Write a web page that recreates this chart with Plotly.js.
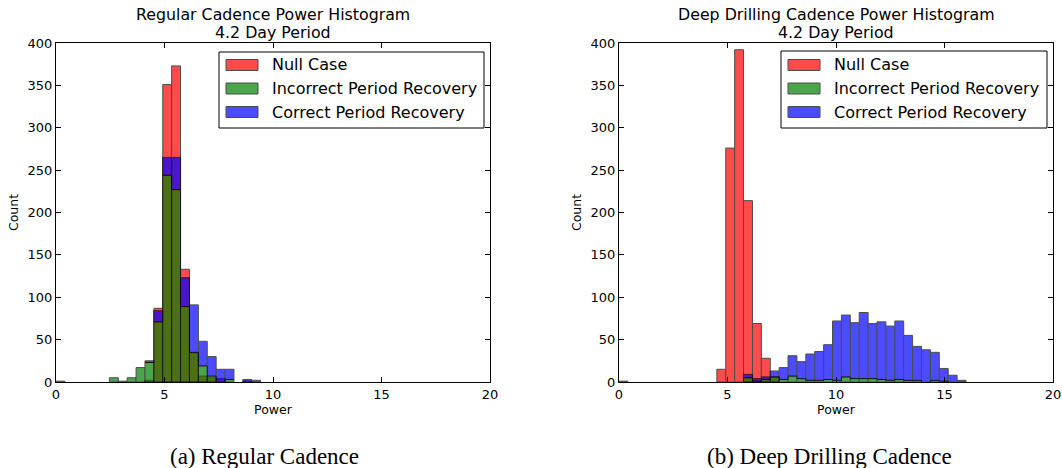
<!DOCTYPE html>
<html>
<head>
<meta charset="utf-8">
<script src="https://cdn.plot.ly/plotly-3.0.1.min.js"></script>
<style>
  html, body { margin: 0; padding: 0; background: #fff; }
  #chart { width: 1062px; height: 468px; }
</style>
</head>
<body>
<div id="chart"></div>
<script>
// ---- Data (counts per histogram bin; bins start at Power = 0) ----
const binWidth = 0.41;
const seriesNames = ["Null Case", "Incorrect Period Recovery", "Correct Period Recovery"];
const tickValuesX = [0, 5, 10, 15, 20];
const tickValuesY = [0, 50, 100, 150, 200, 250, 300, 350, 400];

// Regular cadence (bins k = 0..38)
const regularNull =      [1,0,0,0,0,0,0,0,0,0, 2,87,351,373,133,34,7,5,4,0, 0,0,0,0,0,0,0,0,0,0, 0,0,0,0,0,0,0,0,0];
const regularIncorrect = [0,0,0,0,0,0,5,1,5,17, 23,71,244,227,89,35,19,7,0,3, 0,1,0,0,0,0,0,0,0,0, 0,0,0,0,0,0,0,0,0];
const regularCorrect =   [0,0,0,0,0,0,0,0,0,0, 2,13,21,38,34,56,29,23,15,12, 0,2,2,0,0,0,0,0,0,0, 0,0,0,0,0,0,0,0,0];

// Deep drilling cadence (bins k = 0..38)
const deepNull =      [1,0,0,0,0,0,0,0,0,0, 0,15,276,392,214,69,28,6,0,0, 0,0,0,0,0,0,0,0,0,0, 0,0,0,0,0,0,0,0,0];
const deepIncorrect = [0,0,0,0,0,0,0,0,0,0, 0,0,0,0,5,1,3,6,3,7, 4,2,2,3,2,6,4,4,4,3, 2,3,2,2,0,2,1,0,0];
const deepCorrect =   [0,0,0,0,0,0,0,0,0,0, 0,0,0,0,4,3,3,7,14,24, 20,31,34,41,70,73,66,78,65,68, 64,69,53,40,38,33,15,8,2];

const binCenters = regularNull.map((_, k) => (k + 0.5) * binWidth);

// ---- Styling ----
const colors = ["#ff0000", "#008000", "#0000ff"];
const W = 1062, H = 468;
const px = x => x / W;
const py = y => 1 - y / H;
const font = "DejaVu Sans, sans-serif";

function barTrace(values, ci, xa, ya, base) {
  const t = {
    type: "bar",
    x: binCenters,
    y: values.map(v => (v === 0 ? null : v)),
    width: binWidth,
    name: seriesNames[ci],
    xaxis: xa, yaxis: ya,
    opacity: 0.7,
    marker: { color: colors[ci], line: { color: "#000000", width: 1 } },
    showlegend: false,
    hoverinfo: "x+y+name"
  };
  if (base) t.base = base;
  return t;
}

const data = [
  barTrace(regularNull, 0, "x", "y"),
  barTrace(regularIncorrect, 1, "x", "y"),
  barTrace(regularCorrect, 2, "x", "y", regularIncorrect),
  barTrace(deepNull, 0, "x2", "y2"),
  barTrace(deepIncorrect, 1, "x2", "y2"),
  barTrace(deepCorrect, 2, "x2", "y2", deepIncorrect)
];

function xAxis(domain, anchor) {
  return {
    domain: domain, anchor: anchor, range: [0, 20],
    tickvals: tickValuesX, ticks: "inside", ticklen: 5, tickcolor: "#000",
    showline: true, linecolor: "#000", linewidth: 1, mirror: "ticks",
    showgrid: false, zeroline: false,
    tickfont: { family: font, size: 13, color: "#000" },
    title: { text: "Power", font: { family: font, size: 12.5, color: "#000" }, standoff: 3 }
  };
}
function yAxis(domain, anchor) {
  return {
    domain: domain, anchor: anchor, range: [0, 400],
    tickvals: tickValuesY, ticks: "inside", ticklen: 5, tickcolor: "#000",
    showline: true, linecolor: "#000", linewidth: 1, mirror: "ticks",
    showgrid: false, zeroline: false,
    tickfont: { family: font, size: 13, color: "#000" },
    title: { text: "Count", font: { family: font, size: 12.5, color: "#000" }, standoff: 6 }
  };
}

const plotTop = 43, plotBottom = 382;
const leftX = [56, 490], rightX = [619, 1053];
const yDom = [py(plotBottom), py(plotTop)];

// Custom matplotlib-style legends
const shapes = [];
const annotations = [];
function addLegend(box, swatchX0, textX) {
  shapes.push({ type: "rect", xref: "paper", yref: "paper",
    x0: px(box[0]), x1: px(box[2]), y0: py(box[1]), y1: py(box[3]),
    line: { color: "#000", width: 1 }, fillcolor: "#ffffff" });
  const rows = [65, 88.5, 112];
  rows.forEach((cy, i) => {
    shapes.push({ type: "rect", xref: "paper", yref: "paper",
      x0: px(swatchX0), x1: px(swatchX0 + 32), y0: py(cy - 5.5), y1: py(cy + 5.5),
      fillcolor: colors[i], opacity: 0.7, line: { color: "#000", width: 1 } });
    annotations.push({ xref: "paper", yref: "paper", x: px(textX), y: py(cy),
      xanchor: "left", yanchor: "middle", showarrow: false, text: seriesNames[i],
      font: { family: font, size: 16, color: "#000" } });
  });
}
addLegend([219, 52, 484, 128], 226, 270);
addLegend([781, 51, 1047, 128], 788, 832);

// Subplot titles (two lines each)
[[["Regular Cadence Power Histogram", "4.2 Day Period"], leftX],
 [["Deep Drilling Cadence Power Histogram", "4.2 Day Period"], rightX]].forEach(([lines, xr]) => {
  [15, 33].forEach((cy, i) => {
    annotations.push({ xref: "paper", yref: "paper", x: px((xr[0] + xr[1]) / 2), y: py(cy),
      xanchor: "center", yanchor: "middle", showarrow: false, text: lines[i],
      font: { family: font, size: 15.8, color: "#000" } });
  });
});

// Captions
[["(a) Regular Cadence", 264], ["(b) Deep Drilling Cadence", 829]].forEach(([txt, cx]) => {
  annotations.push({ xref: "paper", yref: "paper", x: px(cx), y: py(456),
    xanchor: "center", yanchor: "middle", showarrow: false, text: txt,
    font: { family: "Liberation Serif, Times New Roman, serif", size: 23, color: "#000" } });
});

const layout = {
  width: W, height: H,
  margin: { l: 0, r: 0, t: 0, b: 0 },
  paper_bgcolor: "#fff", plot_bgcolor: "#fff",
  barmode: "overlay", bargap: 0,
  showlegend: false,
  xaxis: xAxis([px(leftX[0]), px(leftX[1])], "y"),
  yaxis: yAxis(yDom, "x"),
  xaxis2: xAxis([px(rightX[0]), px(rightX[1])], "y2"),
  yaxis2: yAxis(yDom, "x2"),
  shapes: shapes,
  annotations: annotations
};

Plotly.newPlot("chart", data, layout, { displayModeBar: false, staticPlot: true });
</script>
</body>
</html>
